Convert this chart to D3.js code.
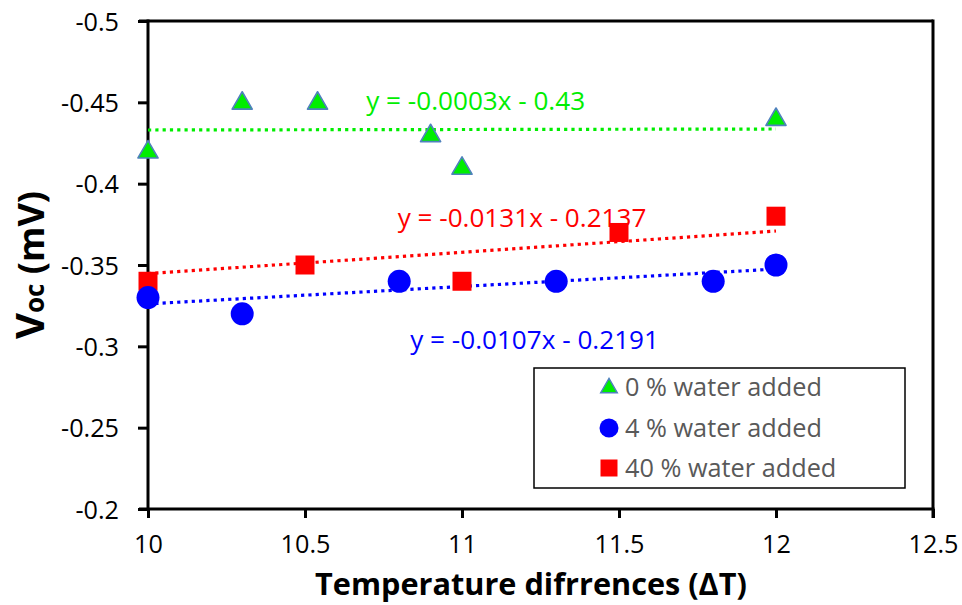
<!DOCTYPE html>
<html>
<head>
<meta charset="utf-8">
<script src="https://cdn.jsdelivr.net/npm/d3@7"></script>
<style>
  html, body { margin: 0; padding: 0; background: #fff; }
  svg { display: block; }
</style>
</head>
<body>
<svg id="chart" width="962" height="605"></svg>
<script>
// ---------------- data ----------------
const seriesNames = ["0 % water added", "4 % water added", "40 % water added"];

const x0 = [10, 10.3, 10.54, 10.9, 11, 12];
const y0 = [-0.42, -0.45, -0.45, -0.43, -0.41, -0.44];

const x4 = [10, 10.3, 10.8, 11.3, 11.8, 12];
const y4 = [-0.33, -0.32, -0.34, -0.34, -0.34, -0.35];

const x40 = [10, 10.5, 11, 11.5, 12];
const y40 = [-0.34, -0.35, -0.34, -0.37, -0.38];

// trendline coefficients (slope, intercept) as printed on the chart
const trend0 = [-0.0003, -0.43];
const trend4 = [-0.0107, -0.2191];
const trend40 = [-0.0131, -0.2137];
const trendLabels = ["y = -0.0003x - 0.43", "y = -0.0107x - 0.2191", "y = -0.0131x - 0.2137"];

const xTicks = [10, 10.5, 11, 11.5, 12, 12.5];
const xTickLabels = ["10", "10.5", "11", "11.5", "12", "12.5"];
const yTicks = [-0.5, -0.45, -0.4, -0.35, -0.3, -0.25, -0.2];
const yTickLabels = ["-0.5", "-0.45", "-0.4", "-0.35", "-0.3", "-0.25", "-0.2"];

// ---------------- layout ----------------
const svg = d3.select("#chart");
const pL = 148, pR = 933, pT = 21, pB = 509;
const FONT = "'Open Sans', 'Noto Sans', sans-serif";

// find a font size so that a sample string spans the wanted width
function fitSize(sample, width, weight) {
  const t = svg.append("text").style("font-family", FONT).style("font-weight", weight || "normal")
    .style("font-size", "100px").text(sample);
  const w = t.node().getComputedTextLength();
  t.remove();
  return 100 * width / w;
}
const tickSize = fitSize("-0.45", 58);
const legSize = fitSize("0 % water added", 197);
const eqSize = fitSize("y = -0.0003x - 0.43", 219);
const titleSize = fitSize("Temperature difrrences (ΔT)", 432, "bold");

const x = d3.scaleLinear().domain([10, 12.5]).range([pL, pR]);
const y = d3.scaleLinear().domain([-0.5, -0.2]).range([pT, pB]);

const GREEN = "#00ee00", BLUE = "#0000ff", RED = "#ff0000";

// frame (top and right)
svg.append("line").attr("x1", pL - 9).attr("x2", pR).attr("y1", pT).attr("y2", pT)
  .attr("stroke", "#000").attr("stroke-width", 3);
svg.append("line").attr("x1", pR).attr("x2", pR).attr("y1", pT - 1.5).attr("y2", pB + 9)
  .attr("stroke", "#000").attr("stroke-width", 3);

// axes
const yAxis = d3.axisLeft(y).tickValues(yTicks).tickFormat((d, i) => yTickLabels[i]).tickSize(10).tickPadding(19);
const xAxis = d3.axisBottom(x).tickValues(xTicks).tickFormat((d, i) => xTickLabels[i]).tickSize(9).tickPadding(17);

const gy = svg.append("g").attr("transform", `translate(${pL},0)`).call(yAxis);
const gx = svg.append("g").attr("transform", `translate(0,${pB})`).call(xAxis);
[gx, gy].forEach(g => {
  g.select(".domain").attr("stroke", "#000").attr("stroke-width", 3);
  g.selectAll(".tick line").attr("stroke", "#000").attr("stroke-width", 3);
  g.selectAll(".tick text").attr("fill", "#000").style("font-family", FONT).style("font-size", tickSize + "px");
});
gy.select(".domain").attr("d", `M0,${pT - 1.5}V${pB + 1.5}`);
gx.select(".domain").attr("d", `M${pL - 9},0H${pR + 1.5}`);
gy.selectAll(".tick text").attr("dy", "0.36em");

// trendlines
const trends = [[trend40, RED], [trend4, BLUE], [trend0, GREEN]];
trends.forEach(([c, col]) => {
  const pts = [10, 12].map(v => [x(v), y(c[0] * v + c[1])]);
  svg.append("line")
    .attr("x1", pts[0][0]).attr("y1", pts[0][1])
    .attr("x2", pts[1][0]).attr("y2", pts[1][1])
    .attr("stroke", col).attr("stroke-width", 3.2)
    .attr("stroke-dasharray", "3.2,4.1");
});

// equation labels (anchored via data coordinates)
const labelPos = [[10.695, -0.4455, GREEN, trendLabels[0]], [10.835, -0.2985, BLUE, trendLabels[1]], [10.795, -0.3735, RED, trendLabels[2]]];
labelPos.forEach(([lx, ly, col, txt]) => {
  svg.append("text").attr("x", x(lx)).attr("y", y(ly))
    .attr("fill", col).style("font-family", FONT).style("font-size", eqSize + "px").text(txt);
});

// markers
const sqSym = d3.symbol().type(d3.symbolSquare).size(19 * 19);
const ciSym = d3.symbol().type(d3.symbolCircle).size(Math.PI * 11.5 * 11.5);
const trSym = d3.symbol().type(d3.symbolTriangle).size(175);

svg.append("g").selectAll("path").data(x40.map((v, i) => [v, y40[i]])).join("path")
  .attr("d", sqSym).attr("transform", d => `translate(${x(d[0])},${y(d[1])})`).attr("fill", RED);
svg.append("g").selectAll("path").data(x4.map((v, i) => [v, y4[i]])).join("path")
  .attr("d", ciSym).attr("transform", d => `translate(${x(d[0])},${y(d[1])})`).attr("fill", BLUE);
svg.append("g").selectAll("path").data(x0.map((v, i) => [v, y0[i]])).join("path")
  .attr("d", trSym).attr("transform", d => `translate(${x(d[0])},${y(d[1]) + 1})`)
  .attr("fill", GREEN).attr("stroke", "#4f81bd").attr("stroke-width", 1.6).attr("stroke-linejoin", "round");

// legend
svg.append("rect").attr("x", 534).attr("y", 368).attr("width", 371).attr("height", 120)
  .attr("fill", "#fff").attr("stroke", "#000").attr("stroke-width", 1.5);
const legSyms = [
  d3.symbol().type(d3.symbolTriangle).size(120),
  d3.symbol().type(d3.symbolCircle).size(Math.PI * 9.5 * 9.5),
  d3.symbol().type(d3.symbolSquare).size(17 * 17)
];
const legFill = [GREEN, BLUE, RED];
const legY = [387, 428, 468];
seriesNames.forEach((nm, i) => {
  const p = svg.append("path").attr("d", legSyms[i]).attr("transform", `translate(609,${legY[i] + (i === 0 ? 1 : 0)})`).attr("fill", legFill[i]);
  if (i === 0) p.attr("stroke", "#4f81bd").attr("stroke-width", 1.4);
  svg.append("text").attr("x", 625).attr("y", legY[i]).attr("dy", "0.36em")
    .attr("fill", "#595959").style("font-family", FONT).style("font-size", legSize + "px").text(nm);
});

// axis titles
svg.append("text").attr("x", 531).attr("y", 595).attr("text-anchor", "middle")
  .style("font-family", FONT).style("font-size", titleSize + "px").style("font-weight", "bold").attr("fill", "#000")
  .text("Temperature difrrences (ΔT)");

const yt = svg.append("text").attr("transform", "translate(44,265) rotate(-90)").attr("text-anchor", "middle")
  .style("font-family", FONT).style("font-weight", "bold").attr("fill", "#000");
yt.append("tspan").style("font-size", "40px").text("V");
yt.append("tspan").style("font-size", "26px").text("oc");
yt.append("tspan").style("font-size", "36px").text(" (mV)");
</script>
</body>
</html>
